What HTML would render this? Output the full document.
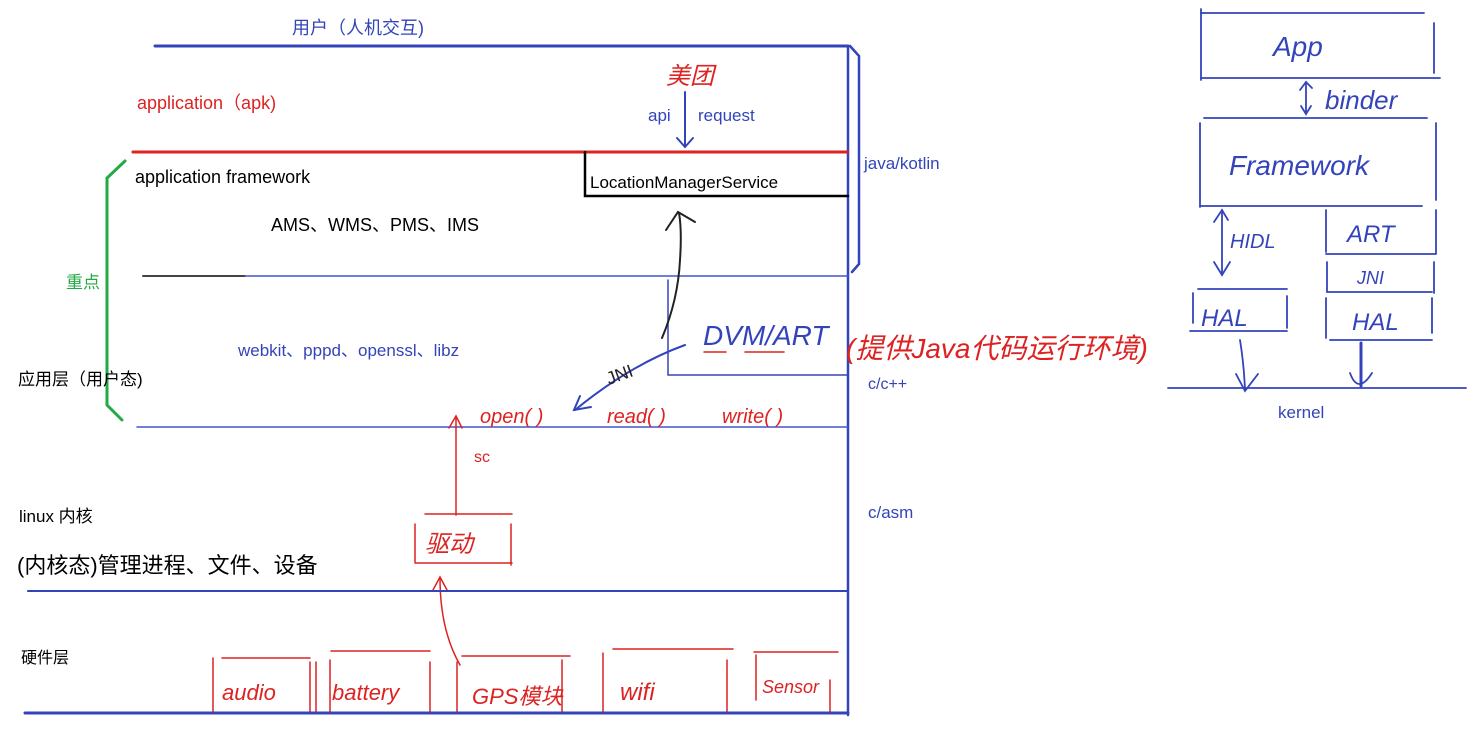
<!DOCTYPE html>
<html><head><meta charset="utf-8"><style>
html,body{margin:0;padding:0;background:#fff;}
svg{display:block;}
text{font-family:"Liberation Sans","Noto Sans CJK SC",sans-serif;}
.h{font-family:"Liberation Sans","Noto Sans CJK SC",sans-serif;font-style:italic;}
</style></head><body>
<svg width="1476" height="730" viewBox="0 0 1476 730" xmlns="http://www.w3.org/2000/svg">
<g fill="none" stroke-linecap="round">
<line x1="155" y1="46" x2="848" y2="46" stroke="#3344bb" stroke-width="3"/>
<line x1="848" y1="46" x2="848" y2="715" stroke="#3344bb" stroke-width="2.5"/>
<path d="M850 46 L859 56 L859 264 L852 272" stroke="#3344bb" stroke-width="2.5"/>
<line x1="133" y1="152" x2="848" y2="152" stroke="#dd2222" stroke-width="3"/>
<path d="M585 152 L585 196 L848 196" stroke="#000" stroke-width="2.5"/>
<line x1="685" y1="92" x2="685" y2="146" stroke="#3344bb" stroke-width="2"/>
<path d="M677 138 L685 147 L693 138" stroke="#3344bb" stroke-width="2"/>
<path d="M125 161 L107 178 L107 405 L122 420" stroke="#22aa44" stroke-width="3"/>
<line x1="143" y1="276" x2="245" y2="276" stroke="#444" stroke-width="2"/>
<line x1="245" y1="276" x2="848" y2="276" stroke="#4455cc" stroke-width="1.5"/>
<path d="M668 280 L668 375 L848 375" stroke="#3344bb" stroke-width="1.5"/>
<line x1="704" y1="352" x2="726" y2="352" stroke="#dd2222" stroke-width="1.5"/>
<line x1="745" y1="352" x2="784" y2="352" stroke="#dd2222" stroke-width="1.5"/>
<path d="M662 338 Q678 300 680 260 Q682 230 679 213" stroke="#222" stroke-width="2"/>
<path d="M666 230 L678 212 L695 222" stroke="#222" stroke-width="2"/>
<path d="M685 345 Q630 365 575 410" stroke="#3344bb" stroke-width="2"/>
<path d="M580 396 L574 410 L591 407" stroke="#3344bb" stroke-width="2"/>
<line x1="137" y1="427" x2="848" y2="427" stroke="#4455cc" stroke-width="1.5"/>
<line x1="456" y1="515" x2="456" y2="418" stroke="#dd2222" stroke-width="1.5"/>
<path d="M449 428 L456 416 L462 428" stroke="#dd2222" stroke-width="1.5"/>
<line x1="425" y1="514" x2="512" y2="514" stroke="#dd2222" stroke-width="1.5"/>
<line x1="415" y1="524" x2="415" y2="562" stroke="#dd2222" stroke-width="1.5"/>
<line x1="511" y1="524" x2="511" y2="565" stroke="#dd2222" stroke-width="1.5"/>
<line x1="415" y1="563" x2="512" y2="563" stroke="#dd2222" stroke-width="1.5"/>
<path d="M460 665 Q440 630 440 578" stroke="#dd2222" stroke-width="1.5"/>
<path d="M433 590 L440 577 L447 590" stroke="#dd2222" stroke-width="1.5"/>
<line x1="28" y1="591" x2="848" y2="591" stroke="#3344bb" stroke-width="2"/>
<g stroke="#dd2222" stroke-width="1.5">
<line x1="222" y1="658" x2="310" y2="658"/><line x1="213" y1="658" x2="213" y2="713"/><line x1="310" y1="662" x2="310" y2="713"/>
<line x1="316" y1="662" x2="316" y2="713"/><line x1="331" y1="651" x2="430" y2="651"/><line x1="330" y1="660" x2="330" y2="713"/><line x1="430" y1="662" x2="430" y2="713"/>
<line x1="462" y1="656" x2="570" y2="656"/><line x1="457" y1="662" x2="457" y2="713"/><line x1="562" y1="660" x2="562" y2="713"/>
<line x1="613" y1="649" x2="733" y2="649"/><line x1="603" y1="653" x2="603" y2="713"/><line x1="727" y1="660" x2="727" y2="713"/>
<line x1="754" y1="652" x2="838" y2="652"/><line x1="756" y1="655" x2="756" y2="700"/><line x1="830" y1="680" x2="830" y2="713"/>
</g>
<line x1="25" y1="713" x2="848" y2="713" stroke="#3344bb" stroke-width="3"/>
<g stroke="#3344bb" stroke-width="1.8">
<line x1="1201" y1="13" x2="1424" y2="13"/><line x1="1201" y1="9" x2="1201" y2="80"/><line x1="1434" y1="23" x2="1434" y2="73"/><line x1="1201" y1="78" x2="1440" y2="78"/>
<line x1="1306" y1="82" x2="1306" y2="114"/><path d="M1300 90 L1306 82 L1312 88"/><path d="M1301 106 L1306 114 L1311 106"/>
<line x1="1204" y1="118" x2="1427" y2="118"/><line x1="1200" y1="123" x2="1200" y2="207"/><line x1="1436" y1="123" x2="1436" y2="200"/><line x1="1200" y1="206" x2="1422" y2="206"/>
<line x1="1222" y1="210" x2="1222" y2="274"/><path d="M1214 222 L1222 210 L1228 220"/><path d="M1214 262 L1222 275 L1230 262"/>
<line x1="1326" y1="210" x2="1326" y2="252"/><line x1="1436" y1="210" x2="1436" y2="253"/><line x1="1326" y1="254" x2="1436" y2="254"/>
<line x1="1327" y1="262" x2="1327" y2="292"/><line x1="1434" y1="262" x2="1434" y2="293"/><line x1="1327" y1="292" x2="1432" y2="292"/>
<line x1="1326" y1="298" x2="1326" y2="338"/><line x1="1432" y1="298" x2="1432" y2="333"/><line x1="1330" y1="340" x2="1432" y2="340"/>
<line x1="1198" y1="289" x2="1287" y2="289"/><line x1="1193" y1="293" x2="1193" y2="323"/><line x1="1287" y1="296" x2="1287" y2="328"/><line x1="1190" y1="331" x2="1287" y2="331"/>
<path d="M1240 340 Q1244 365 1245 390"/><path d="M1236 374 L1245 391 L1258 374"/>
<line x1="1361" y1="343" x2="1361" y2="386" stroke-width="3"/><path d="M1350 373 Q1358 395 1372 373"/>
<line x1="1168" y1="388" x2="1466" y2="388"/>
</g>
</g>
<text x="292" y="34" font-size="18" fill="#3344bb">用户（人机交互)</text>
<text x="137" y="109" font-size="18" fill="#dd2222">application（apk)</text>
<text x="666" y="84" font-size="24" fill="#dd2222" class="h">美团</text>
<text x="648" y="121" font-size="17" fill="#3344bb">api</text>
<text x="698" y="121" font-size="17" fill="#3344bb">request</text>
<text x="590" y="188" font-size="17" fill="#000">LocationManagerService</text>
<text x="864" y="169" font-size="17" fill="#3344bb">java/kotlin</text>
<text x="135" y="183" font-size="18" fill="#000">application framework</text>
<text x="271" y="231" font-size="18" fill="#000">AMS、WMS、PMS、IMS</text>
<text x="66" y="288" font-size="17" fill="#22aa44">重点</text>
<text x="238" y="356" font-size="17" fill="#3344bb">webkit、pppd、openssl、libz</text>
<text x="18" y="385" font-size="17" fill="#000">应用层（用户态)</text>
<text x="703" y="345" font-size="28" fill="#3344bb" class="h">DVM/ART</text>
<text x="846" y="358" font-size="28" fill="#dd2222" class="h">(提供Java代码运行环境)</text>
<text x="868" y="389" font-size="16" fill="#3344bb">c/c++</text>
<text x="609" y="385" font-size="18" fill="#222" transform="rotate(-20 609 385)">JNI</text>
<text x="480" y="423" font-size="20" fill="#dd2222" class="h">open( )</text>
<text x="607" y="423" font-size="20" fill="#dd2222" class="h">read( )</text>
<text x="722" y="423" font-size="20" fill="#dd2222" class="h">write( )</text>
<text x="474" y="462" font-size="16" fill="#dd2222">sc</text>
<text x="868" y="518" font-size="17" fill="#3344bb">c/asm</text>
<text x="19" y="522" font-size="17" fill="#000">linux 内核</text>
<text x="425" y="552" font-size="24" fill="#dd2222" class="h">驱动</text>
<text x="17" y="573" font-size="22" fill="#000">(内核态)管理进程、文件、设备</text>
<text x="21" y="663" font-size="16" fill="#000">硬件层</text>
<text x="222" y="700" font-size="22" fill="#dd2222" class="h">audio</text>
<text x="332" y="700" font-size="22" fill="#dd2222" class="h">battery</text>
<text x="472" y="704" font-size="22" fill="#dd2222" class="h">GPS模块</text>
<text x="620" y="700" font-size="24" fill="#dd2222" class="h">wifi</text>
<text x="762" y="693" font-size="18" fill="#dd2222" class="h">Sensor</text>
<text x="1273" y="56" font-size="28" fill="#3344bb" class="h">App</text>
<text x="1325" y="109" font-size="26" fill="#3344bb" class="h">binder</text>
<text x="1229" y="175" font-size="28" fill="#3344bb" class="h">Framework</text>
<text x="1230" y="248" font-size="20" fill="#3344bb" class="h">HIDL</text>
<text x="1347" y="242" font-size="24" fill="#3344bb" class="h">ART</text>
<text x="1357" y="284" font-size="18" fill="#3344bb" class="h">JNI</text>
<text x="1201" y="326" font-size="24" fill="#3344bb" class="h">HAL</text>
<text x="1352" y="330" font-size="24" fill="#3344bb" class="h">HAL</text>
<text x="1278" y="418" font-size="17" fill="#3344bb">kernel</text>
</svg>
</body></html>
